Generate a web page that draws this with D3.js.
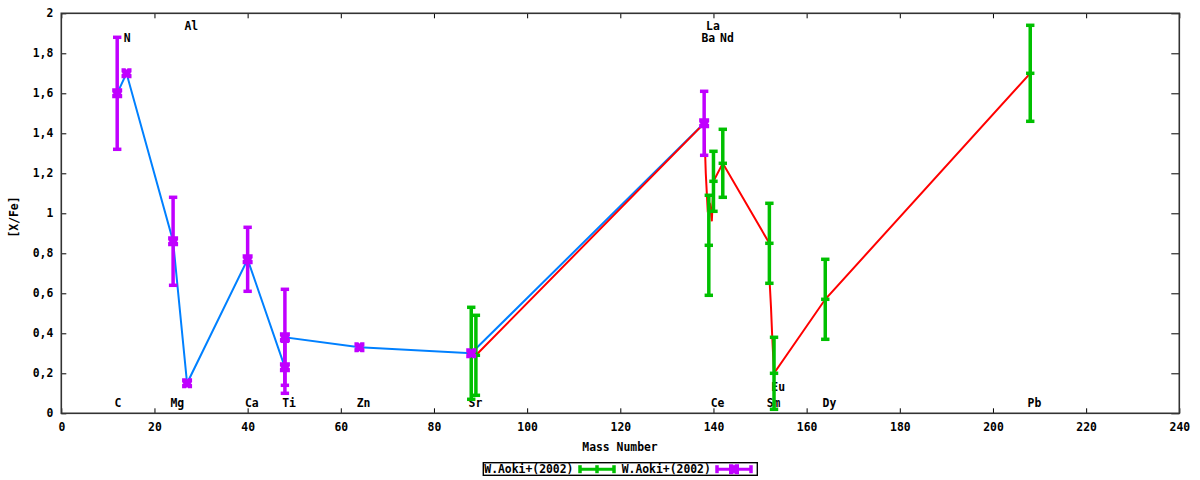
<!DOCTYPE html>
<html><head><meta charset="utf-8">
<script src="https://cdn.jsdelivr.net/npm/d3@7"></script>
<style>
body{margin:0;background:#fff;}
text{font-family:"DejaVu Sans Mono",monospace;font-weight:bold;font-size:11.4px;fill:#000;}
</style></head><body>
<svg id="chart" width="1200" height="480"></svg>
<script>
// ---- data ----
const xTicks = [0, 20, 40, 60, 80, 100, 120, 140, 160, 180, 200, 220, 240];
const yTicks = [0, 0.2, 0.4, 0.6, 0.8, 1, 1.2, 1.4, 1.6, 1.8, 2];

const blueMass = [12, 14, 24, 27, 40, 48, 48, 64, 88, 138];
const blueVal  = [1.60, 1.70, 0.86, 0.15, 0.77, 0.23, 0.38, 0.33, 0.30, 1.45];

const redMass = [89, 138, 138.35, 138.75, 139.3, 139.65, 140, 142, 152, 152.1, 152.35, 152.6, 153, 164, 208];
const redVal  = [0.29, 1.45, 1.20, 1.02, 1.04, 0.96, 1.16, 1.25, 0.85, 0.64, 0.53, 0.39, 0.20, 0.57, 1.70];

const purpleMass = [12, 14, 24, 27, 40, 48, 48, 64, 88, 138];
const purpleVal  = [1.60, 1.70, 0.86, 0.15, 0.77, 0.38, 0.23, 0.33, 0.30, 1.45];
const purpleErr  = [0.28, 0, 0.22, 0, 0.16, 0.24, 0.13, 0, 0, 0.16];

const greenMass = [88, 89, 139, 140, 142, 152, 153, 164, 208];
const greenVal  = [0.30, 0.29, 0.84, 1.16, 1.25, 0.85, 0.20, 0.57, 1.70];
const greenErr  = [0.23, 0.20, 0.25, 0.15, 0.17, 0.20, 0.18, 0.20, 0.24];

const labelText = ["C", "N", "Mg", "Al", "Ca", "Ti", "Zn", "Sr", "La", "Ba", "Nd", "Ce", "Sm", "Eu", "Dy", "Pb"];
const labelMass = [12, 14, 24, 27, 40, 48, 64, 88, 139, 138, 142, 140, 152, 153, 164, 208];
const labelVal  = [0.05, 1.875, 0.05, 1.937, 0.05, 0.05, 0.05, 0.05, 1.937, 1.875, 1.875, 0.05, 0.05, 0.13, 0.05, 0.05];

const legendLabels = ["W.Aoki+(2002)", "W.Aoki+(2002)"];
const xTitle = "Mass Number";
const yTitle = "[X/Fe]";

// ---- chart ----
const L = 61.3, R = 1179.3, T = 13.3, B = 413.3;
const x = d3.scaleLinear().domain([0, 240]).range([L, R]);
const y = d3.scaleLinear().domain([0, 2]).range([B, T]);
const svg = d3.select("#chart");

const fmt = d => String(d).replace(".", ",");
const GREEN = "#00c000", PURPLE = "#c000ff", BLUE = "#0080ff", RED = "#ff0000";

function styleAxis(g) {
  g.select(".domain").remove();
  g.selectAll(".tick line").attr("stroke", "#000").attr("stroke-width", 1);
  g.selectAll(".tick text").attr("font-family", null).attr("font-size", null);
}
svg.append("g").attr("transform", `translate(0,${B})`)
  .call(d3.axisBottom(x).tickValues(xTicks).tickSizeInner(-5).tickSizeOuter(0).tickPadding(10))
  .call(styleAxis);
svg.append("g").attr("transform", `translate(0,${T})`)
  .call(d3.axisTop(x).tickValues(xTicks).tickSizeInner(-5).tickSizeOuter(0).tickFormat(""))
  .call(styleAxis);
svg.append("g").attr("transform", `translate(${L},0)`)
  .call(d3.axisLeft(y).tickValues(yTicks).tickSizeInner(-5).tickSizeOuter(0).tickPadding(8).tickFormat(fmt))
  .call(styleAxis);
svg.append("g").attr("transform", `translate(${R},0)`)
  .call(d3.axisRight(y).tickValues(yTicks).tickSizeInner(-8).tickSizeOuter(0).tickFormat(""))
  .call(styleAxis);

svg.append("rect").attr("x", L).attr("y", T).attr("width", R - L).attr("height", B - T)
  .attr("fill", "none").attr("stroke", "#333").attr("stroke-width", 1.6);

// titles
svg.append("text").attr("x", 620).attr("y", 447).attr("text-anchor", "middle")
  .attr("dominant-baseline", "central").text(xTitle);
svg.append("text").attr("transform", "translate(14,217) rotate(-90)").attr("text-anchor", "middle")
  .attr("dominant-baseline", "central").text(yTitle);

// element labels (behind data)
svg.append("g").selectAll("text").data(labelText).join("text")
  .attr("x", (d, i) => x(labelMass[i]) - 2.7)
  .attr("y", (d, i) => y(labelVal[i]))
  .attr("dominant-baseline", "central")
  .text(d => d);

// lines
const line = d3.line().x(d => x(d[0])).y(d => y(d[1]));
svg.append("path").datum(blueMass.map((m, i) => [m, blueVal[i]]))
  .attr("d", line).attr("fill", "none").attr("stroke", BLUE).attr("stroke-width", 2);
svg.append("path").datum(redMass.map((m, i) => [m, redVal[i]]))
  .attr("d", line).attr("fill", "none").attr("stroke", RED).attr("stroke-width", 2);

// marker shape: filled notched square
const boxPts = [[-5,-5],[-1,-5],[0,-3.6],[1,-5],[5,-5],[5,-1],[3.6,0],[5,1],[5,5],[1,5],[0,3.6],[-1,5],[-5,5],[-5,1],[-3.6,0],[-5,-1]];
function boxPath(cx, cy) { return "M" + boxPts.map(p => `${cx + p[0]},${cy + p[1]}`).join("L") + "Z"; }

// error bars
const CAP = 4.2, BW = 3.5;
function errorBars(mass, val, err, color, marker) {
  const g = svg.append("g").attr("stroke", color).attr("fill", "none");
  mass.forEach((m, i) => {
    const cx = x(m), v = val[i], e = err[i];
    const y1 = y(v + e), y2 = y(v - e), cy = y(v);
    if (e > 0) {
      g.append("line").attr("x1", cx).attr("x2", cx).attr("y1", y1).attr("y2", y2).attr("stroke-width", BW);
      [y1, y2].forEach(yy => g.append("line").attr("x1", cx - CAP).attr("x2", cx + CAP)
        .attr("y1", yy).attr("y2", yy).attr("stroke-width", BW));
    }
    if (marker === "plus") {
      g.append("line").attr("x1", cx - CAP).attr("x2", cx + CAP).attr("y1", cy).attr("y2", cy).attr("stroke-width", BW);
    } else {
      g.append("path").attr("d", boxPath(cx, cy)).attr("fill", color).attr("stroke", "none");
    }
  });
}
errorBars(greenMass, greenVal, greenErr, GREEN, "plus");
errorBars(purpleMass, purpleVal, purpleErr, PURPLE, "box");

// legend
const lg = svg.append("g");
lg.append("rect").attr("x", 483.3).attr("y", 462.7).attr("width", 274).attr("height", 12.6)
  .attr("fill", "#fff").attr("stroke", "#000").attr("stroke-width", 1.4);
const legendItems = [
  {tx: 484.3, s0: 580, s1: 614, color: GREEN, marker: "plus"},
  {tx: 621.7, s0: 717, s1: 751, color: PURPLE, marker: "box"}
];
legendItems.forEach((it, i) => {
  const cy = 469.2;
  lg.append("text").attr("x", it.tx).attr("y", cy).attr("dominant-baseline", "central").text(legendLabels[i]);
  const g = lg.append("g").attr("stroke", it.color).attr("fill", "none");
  g.append("line").attr("x1", it.s0).attr("x2", it.s1).attr("y1", cy).attr("y2", cy).attr("stroke-width", 3);
  [it.s0, it.s1].forEach(sx => g.append("line").attr("x1", sx).attr("x2", sx).attr("y1", cy - 4).attr("y2", cy + 4).attr("stroke-width", BW));
  const mx = (it.s0 + it.s1) / 2;
  if (it.marker === "plus") {
    g.append("line").attr("x1", mx).attr("x2", mx).attr("y1", cy - 4).attr("y2", cy + 4).attr("stroke-width", BW);
  } else {
    g.append("path").attr("d", boxPath(mx, cy)).attr("fill", it.color).attr("stroke", "none");
  }
});
</script>
</body></html>
